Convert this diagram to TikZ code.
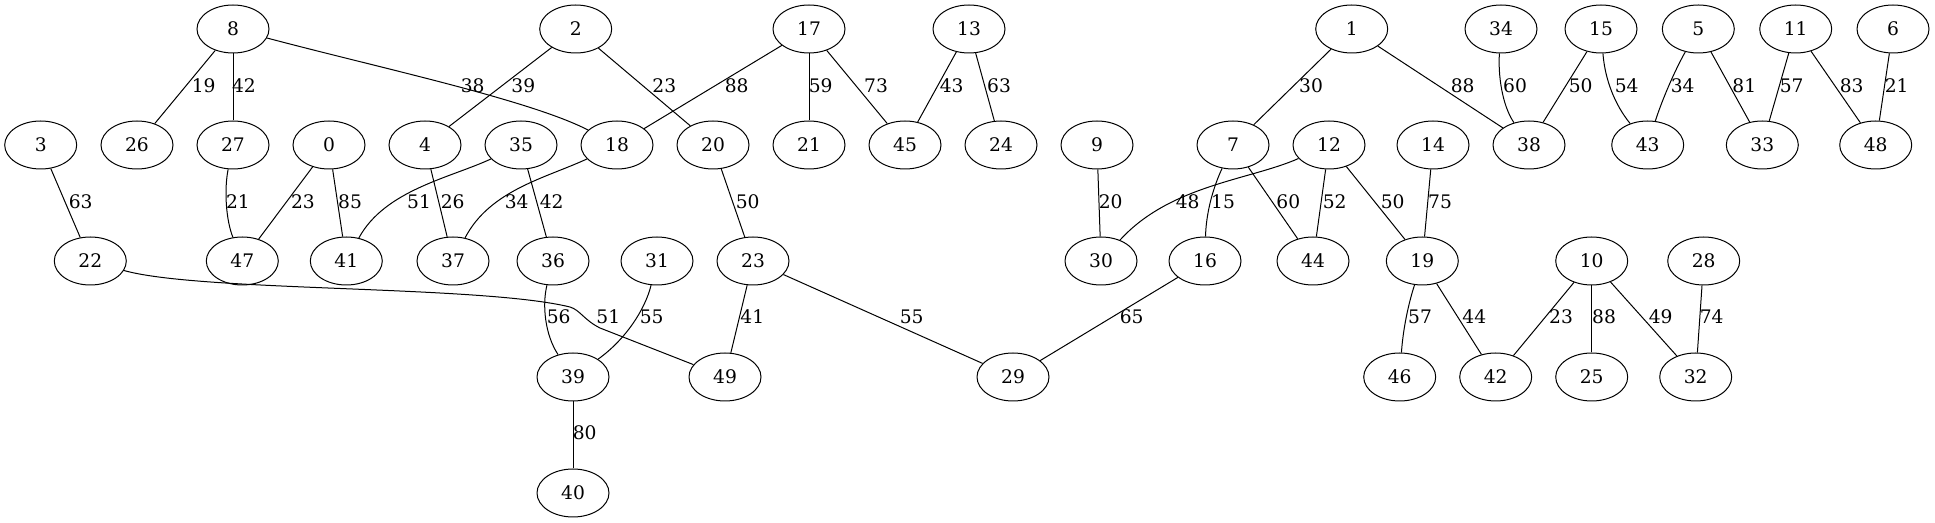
\documentclass[tikz,border=0pt]{standalone}
\usepackage{fontspec}
\setmainfont{DejaVu Serif}
\usetikzlibrary{shapes.geometric}

\tikzset{
  vertex/.style={draw, ellipse, line width=0.75pt, minimum width=54pt, minimum height=36pt, inner sep=0pt, font=\fontsize{14}{16}\selectfont},
  wlabel/.style={inner sep=0pt, font=\fontsize{14}{16}\selectfont},
  link/.style={line width=0.75pt}
}

\begin{document}
\begin{tikzpicture}[x=0.75pt,y=0.75pt,yscale=-1,xscale=1]
\useasboundingbox (0,0) rectangle (1935,523);

%Nodes: first row
\node[vertex] (n8) at (233,29) {8};
\node[vertex] (n2) at (575.7,29) {2};
\node[vertex] (n17) at (809,29) {17};
\node[vertex] (n13) at (969,29) {13};
\node[vertex] (n1) at (1351.7,29) {1};
\node[vertex] (n34) at (1501,29) {34};
\node[vertex] (n15) at (1601,29) {15};
\node[vertex] (n5) at (1698.3,29) {5};
\node[vertex] (n11) at (1795.7,29) {11};
\node[vertex] (n6) at (1893,29) {6};
%Nodes: second row
\node[vertex] (n3) at (40.7,145) {3};
\node[vertex] (n26) at (137,145) {26};
\node[vertex] (n27) at (233,145) {27};
\node[vertex] (n0) at (329,145) {0};
\node[vertex] (n4) at (425,145) {4};
\node[vertex] (n35) at (521,145) {35};
\node[vertex] (n18) at (617,145) {18};
\node[vertex] (n20) at (713,145) {20};
\node[vertex] (n21) at (809,145) {21};
\node[vertex] (n45) at (905,145) {45};
\node[vertex] (n24) at (1001,145) {24};
\node[vertex] (n9) at (1097,145) {9};
\node[vertex] (n7) at (1233,145) {7};
\node[vertex] (n12) at (1329,145) {12};
\node[vertex] (n14) at (1433,145) {14};
\node[vertex] (n38) at (1529,145) {38};
\node[vertex] (n43) at (1647.7,145) {43};
\node[vertex] (n33) at (1762.3,145) {33};
\node[vertex] (n48) at (1875.7,145) {48};
%Nodes: third row
\node[vertex] (n22) at (90.3,261) {22};
\node[vertex] (n47) at (242.3,261) {47};
\node[vertex] (n41) at (346.3,261) {41};
\node[vertex] (n37) at (453,261) {37};
\node[vertex] (n36) at (553,261) {36};
\node[vertex] (n31) at (657,261) {31};
\node[vertex] (n23) at (753,261) {23};
\node[vertex] (n30) at (1101,261) {30};
\node[vertex] (n16) at (1205,261) {16};
\node[vertex] (n44) at (1313,261) {44};
\node[vertex] (n19) at (1422.3,261) {19};
\node[vertex] (n10) at (1591.7,261) {10};
\node[vertex] (n28) at (1703.7,261) {28};
%Nodes: fourth and fifth row
\node[vertex] (n39) at (573,377) {39};
\node[vertex] (n49) at (725,377) {49};
\node[vertex] (n29) at (1013,377) {29};
\node[vertex] (n46) at (1399.7,377) {46};
\node[vertex] (n42) at (1495.7,377) {42};
\node[vertex] (n25) at (1591.7,377) {25};
\node[vertex] (n32) at (1695.7,377) {32};
\node[vertex] (n40) at (573,493) {40};

%Straight Lines
\draw[link] (n8) -- (n26);
\draw[link] (n8) -- (n27);
\draw[link] (n2) -- (n4);
\draw[link] (n2) -- (n20);
\draw[link] (n17) -- (n18);
\draw[link] (n17) -- (n21);
\draw[link] (n17) -- (n45);
\draw[link] (n13) -- (n45);
\draw[link] (n13) -- (n24);
\draw[link] (n1) -- (n7);
\draw[link] (n1) -- (n38);
\draw[link] (n15) -- (n38);
\draw[link] (n5) -- (n33);
\draw[link] (n11) -- (n33);
\draw[link] (n11) -- (n48);
\draw[link] (n6) -- (n48);
\draw[link] (n3) -- (n22);
\draw[link] (n0) -- (n47);
\draw[link] (n0) -- (n41);
\draw[link] (n4) -- (n37);
\draw[link] (n35) -- (n36);
\draw[link] (n20) -- (n23);
\draw[link] (n9) -- (n30);
\draw[link] (n7) -- (n44);
\draw[link] (n12) -- (n44);
\draw[link] (n12) -- (n19);
\draw[link] (n14) -- (n19);
\draw[link] (n23) -- (n49);
\draw[link] (n23) -- (n29);
\draw[link] (n16) -- (n29);
\draw[link] (n19) -- (n42);
\draw[link] (n10) -- (n42);
\draw[link] (n10) -- (n25);
\draw[link] (n10) -- (n32);
\draw[link] (n28) -- (n32);
\draw[link] (n39) -- (n40);

%Curve Lines
\draw[link] (n8) .. controls (380,68) and (530,100) .. (n18);
\draw[link] (n27) .. controls (224,190) and (226,220) .. (n47);
\draw[link] (n35) .. controls (450,178) and (385,190) .. (n41);
\draw[link] (n18) .. controls (546,178) and (490,190) .. (n37);
\draw[link] (n22) .. controls (200,292) and (480,285) .. (570,307) .. controls (580,310) and (584,320) .. (600,328) -- (n49);
\draw[link] (n36) .. controls (542,305) and (545,335) .. (n39);
\draw[link] (n31) .. controls (645,310) and (625,340) .. (n39);
\draw[link] (n12) .. controls (1250,180) and (1170,185) .. (n30);
\draw[link] (n7) .. controls (1212,190) and (1206,215) .. (n16);
\draw[link] (n19) .. controls (1408,305) and (1403,330) .. (n46);
\draw[link] (n34) .. controls (1498,75) and (1502,105) .. (n38);
\draw[link] (n15) .. controls (1605,80) and (1615,105) .. (n43);
\draw[link] (n5) .. controls (1675,70) and (1662,100) .. (n43);

% Text Node
\node[wlabel] (w8-26) at (203.7,85.7) {19};
\node[wlabel] (w8-27) at (244,85.7) {42};
\node[wlabel] (w8-18) at (472.7,85.7) {38};
\node[wlabel] (w2-4) at (523.3,85.7) {39};
\node[wlabel] (w2-20) at (664.3,85.7) {23};
\node[wlabel] (w17-18) at (736.7,85.7) {88};
\node[wlabel] (w17-21) at (820.7,85.7) {59};
\node[wlabel] (w17-45) at (876,85.7) {73};
\node[wlabel] (w13-45) at (951.7,85.7) {43};
\node[wlabel] (w13-24) at (999,85.7) {63};
\node[wlabel] (w1-7) at (1311,85.7) {30};
\node[wlabel] (w1-38) at (1462.7,85.7) {88};
\node[wlabel] (w34-38) at (1515,85.7) {60};
\node[wlabel] (w15-38) at (1580.7,85.7) {50};
\node[wlabel] (w15-43) at (1626.7,85.7) {54};
\node[wlabel] (w5-43) at (1682.7,85.7) {34};
\node[wlabel] (w5-33) at (1744.3,85.7) {81};
\node[wlabel] (w11-33) at (1791.7,85.7) {57};
\node[wlabel] (w11-48) at (1851.7,85.7) {83};
\node[wlabel] (w6-48) at (1896.7,85.7) {21};
% Text Node
\node[wlabel] (w3-22) at (80.7,201.7) {63};
\node[wlabel] (w27-47) at (238,201.7) {21};
\node[wlabel] (w0-47) at (303,201.7) {23};
\node[wlabel] (w0-41) at (350,201.7) {85};
\node[wlabel] (w35-41) at (419,201.7) {51};
\node[wlabel] (w4-37) at (452.7,201.7) {26};
\node[wlabel] (w18-37) at (516.7,201.7) {34};
\node[wlabel] (w35-36) at (551.7,201.7) {42};
\node[wlabel] (w20-23) at (747.7,201.7) {50};
\node[wlabel] (w9-30) at (1110.7,201.7) {20};
\node[wlabel] (w12-30) at (1187.7,201.7) {48};
\node[wlabel] (w7-16) at (1223,201.7) {15};
\node[wlabel] (w7-44) at (1288.3,201.7) {60};
\node[wlabel] (w12-44) at (1334.7,201.7) {52};
\node[wlabel] (w12-19) at (1392.7,201.7) {50};
\node[wlabel] (w14-19) at (1440,201.7) {75};
% Text Node
\node[wlabel] (w22-49) at (608.3,317) {51};
\node[wlabel] (w36-39) at (558.7,317) {56};
\node[wlabel] (w31-39) at (651.7,317) {55};
\node[wlabel] (w23-49) at (752.3,317) {41};
\node[wlabel] (w23-29) at (911.7,317) {55};
\node[wlabel] (w16-29) at (1131.7,317) {65};
\node[wlabel] (w19-46) at (1420,317) {57};
\node[wlabel] (w19-42) at (1474.3,317) {44};
\node[wlabel] (w10-42) at (1561,317) {23};
\node[wlabel] (w10-25) at (1604,317) {88};
\node[wlabel] (w10-32) at (1660.7,317) {49};
\node[wlabel] (w28-32) at (1711.7,317) {74};
% Text Node
\node[wlabel] (w39-40) at (584.7,433) {80};

\end{tikzpicture}
\end{document}
